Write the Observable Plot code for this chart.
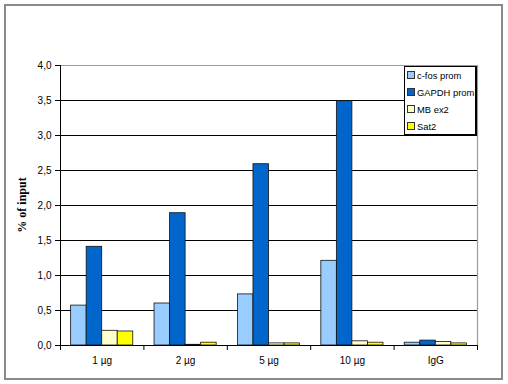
<!DOCTYPE html>
<html><head><meta charset="utf-8">
<script src="https://cdn.jsdelivr.net/npm/d3@7"></script>
<script src="https://cdn.jsdelivr.net/npm/@observablehq/plot@0.6"></script>
<style>
body{margin:0;background:#fff;}
#wrap{position:relative;width:508px;height:384px;font-family:Arial,"Liberation Sans",sans-serif;overflow:hidden;}
#wrap svg{position:absolute;left:0;top:0;}
#border{position:absolute;left:4px;top:4px;width:495px;height:372px;border:2px solid #8a8a8a;}
#legend{position:absolute;left:404px;top:66px;width:70px;height:67px;border:1px solid #000;border-right-width:2px;border-bottom-width:2px;background:#fff;font-size:9.4px;color:#000;}
#legend .row{position:absolute;left:2px;height:12px;line-height:12px;white-space:nowrap;}
#legend .sw{display:inline-block;width:6px;height:6px;border:1px solid #333;margin-right:2px;vertical-align:0px;}
#ytitle{position:absolute;left:22px;top:205px;transform:translate(-50%,-50%) rotate(-90deg);font-family:"Liberation Serif","Times New Roman",serif;font-weight:bold;font-size:12px;white-space:nowrap;color:#000;}
</style>
</head><body>
<div id="wrap"><div id="border"></div></div>
<script>
const groups = ["1 µg", "2 µg", "5 µg", "10 µg", "IgG"];
const series = ["c-fos prom", "GAPDH prom", "MB ex2", "Sat2"];
const colors = ["#99CCFF", "#0066CC", "#FFFFCC", "#FFFF00"];
const cfos  = [0.57, 0.60, 0.73, 1.21, 0.04];
const gapdh = [1.41, 1.89, 2.59, 3.49, 0.07];
const mbex2 = [0.21, 0.01, 0.03, 0.06, 0.05];
const sat2  = [0.20, 0.04, 0.03, 0.04, 0.03];
const yTicks = [0, 0.5, 1.0, 1.5, 2.0, 2.5, 3.0, 3.5, 4.0];
const yTitle = "% of input";

const values = [cfos, gapdh, mbex2, sat2];
const groupFill = 0.745;               // fraction of each group occupied by bars
const pad = (1 - groupFill) / 2;
const bw = groupFill / series.length;
const data = [];
groups.forEach((g, i) => {
  series.forEach((s, j) => {
    const x1 = i + pad + j * bw;
    data.push({group: g, series: s, value: values[j][i], x1, x2: x1 + bw});
  });
});

const chart = Plot.plot({
  width: 508, height: 384,
  marginLeft: 60, marginRight: 31, marginTop: 65, marginBottom: 39,
  style: {background: "transparent", fontSize: "10px", fontFamily: "Arial, 'Liberation Sans', sans-serif", color: "#000"},
  x: {domain: [0, groups.length]},
  y: {domain: [0, 4]},
  color: {domain: series, range: colors},
  marks: [
    Plot.ruleY(yTicks.filter(t => t > 0 && t < 4), {stroke: "#000", strokeWidth: 1}),
    Plot.ruleY([4], {stroke: "#9a9a9a", strokeWidth: 1.2}),
    Plot.ruleX([groups.length], {stroke: "#9a9a9a", strokeWidth: 1.2}),
    Plot.rectY(data, {x1: "x1", x2: "x2", y: "value", fill: "series", stroke: "#111", strokeWidth: 0.8}),
    Plot.ruleX([0], {stroke: "#000", strokeWidth: 1}),
    Plot.ruleY([0], {stroke: "#000", strokeWidth: 1}),
    Plot.axisY({ticks: yTicks, tickFormat: d => d.toFixed(1).replace(".", ","), tickSize: 5, tickPadding: 4, label: null, stroke: "#000"}),
    Plot.axisX({ticks: d3.range(groups.length + 1), tickSize: 5, tickFormat: () => "", label: null, stroke: "#000"}),
    Plot.axisX({ticks: groups.map((g, i) => i + 0.5), tickSize: 0, tickPadding: 11, tickFormat: v => groups[Math.floor(v)], label: null})
  ]
});
const wrap = document.getElementById("wrap");
wrap.insertBefore(chart, wrap.firstChild);

const t = document.createElement("div");
t.id = "ytitle"; t.textContent = yTitle;
wrap.appendChild(t);

const leg = document.createElement("div");
leg.id = "legend";
series.forEach((s, j) => {
  const r = document.createElement("div");
  r.className = "row";
  r.style.top = (3 + j * 17) + "px";
  const sw = document.createElement("span");
  sw.className = "sw"; sw.style.background = colors[j];
  r.appendChild(sw);
  r.appendChild(document.createTextNode(s));
  leg.appendChild(r);
});
wrap.appendChild(leg);
</script>
</body></html>
